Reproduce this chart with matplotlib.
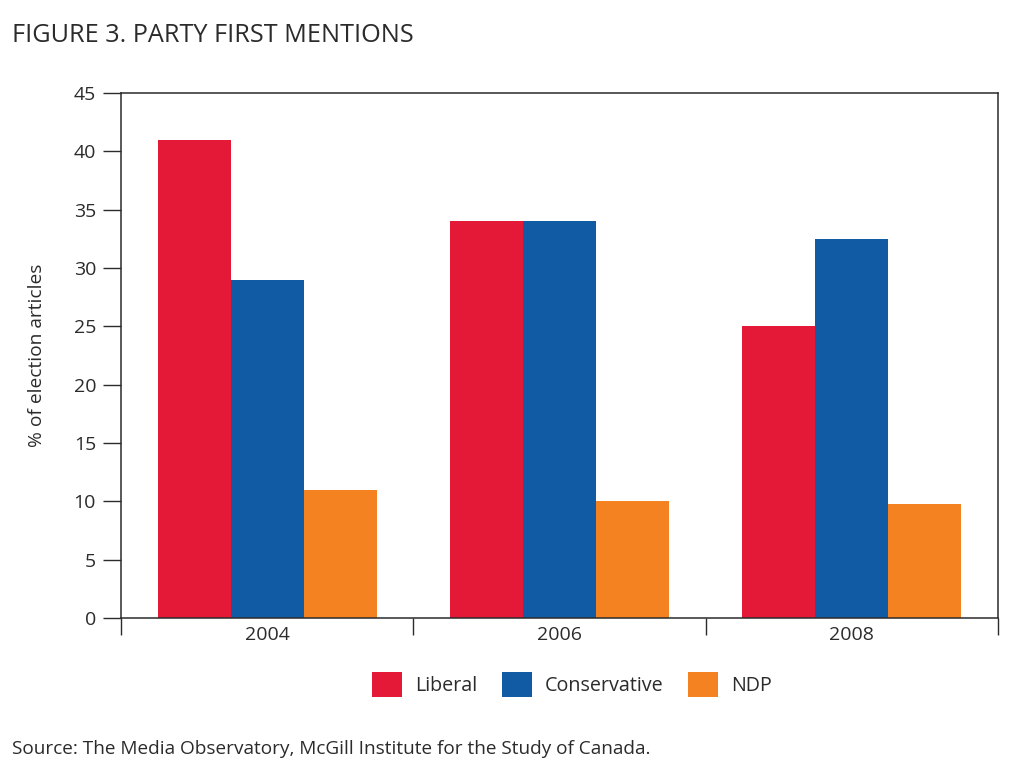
import numpy as np
import matplotlib.pyplot as plt

# Data
years = ["2004", "2006", "2008"]
parties = ["Liberal", "Conservative", "NDP"]
liberal = [41.0, 34.0, 25.0]
conservative = [29.0, 34.0, 32.5]
ndp = [11.0, 10.0, 9.8]

colors = ["#E31937", "#115AA4", "#F58220"]
series = [liberal, conservative, ndp]

plt.rcParams['font.family'] = ['Open Sans', 'DejaVu Sans']
ink = "#2b2b2b"

fig = plt.figure(figsize=(10.24, 7.78), dpi=100)
ax = fig.add_axes([0.1182, 0.2057, 0.8564, 0.6748])

x = np.arange(len(years))
width = 0.25
for i, (vals, name) in enumerate(zip(series, parties)):
    ax.bar(x + (i - 1) * width, vals, width, color=colors[i], label=name,
           edgecolor="none", zorder=2)

ax.set_xlim(-0.5, 2.5)
ax.set_ylim(0, 45)
ax.set_yticks(np.arange(0, 46, 5))
ax.set_xticks(x)
ax.set_xticklabels(years)
ax.set_xticks([-0.5, 0.5, 1.5, 2.5], minor=True)

ax.tick_params(axis="y", direction="out", length=13, width=1.0, color=ink,
               labelsize=14, labelcolor=ink, pad=5)
ax.tick_params(axis="x", which="major", length=0, labelsize=14,
               labelcolor=ink, pad=6)
ax.tick_params(axis="x", which="minor", direction="out", length=12,
               width=1.0, color=ink)

for s in ax.spines.values():
    s.set_color(ink)
    s.set_linewidth(1.1)

ax.set_ylabel("% of election articles", fontsize=13.8, color=ink, labelpad=20)

leg = ax.legend(loc="upper center", bbox_to_anchor=(0.514, -0.07), ncol=3,
                frameon=False, fontsize=14.2, handlelength=1.52,
                handleheight=1.52, handletextpad=0.65, columnspacing=1.25)
for t in leg.get_texts():
    t.set_color(ink)

fig.text(0.012, 0.955, "FIGURE 3. PARTY FIRST MENTIONS", fontsize=18.2,
         color=ink, va="center", ha="left")
fig.text(0.012, 0.037,
         "Source: The Media Observatory, McGill Institute for the Study of Canada.",
         fontsize=13.7, color=ink, va="center", ha="left")

fig.savefig("out.png", dpi=100)
